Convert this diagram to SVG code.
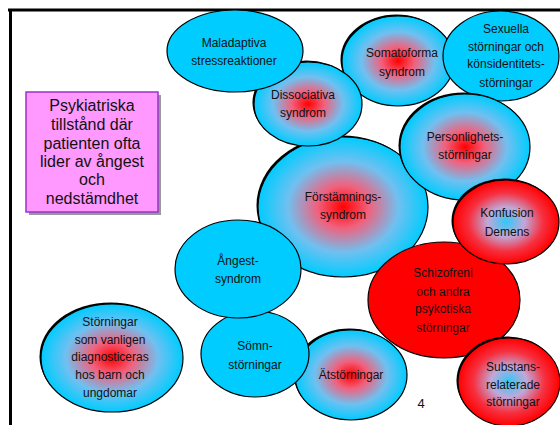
<svg xmlns="http://www.w3.org/2000/svg" width="560" height="425" viewBox="0 0 560 425">
<defs>
<radialGradient id="rc" cx="50%" cy="50%" r="50%">
<stop offset="0" stop-color="#FF0000"/>
<stop offset="0.3" stop-color="#F2607C"/>
<stop offset="0.65" stop-color="#70C0F0"/>
<stop offset="1" stop-color="#00CCFF"/>
</radialGradient>
<radialGradient id="cr" cx="50%" cy="50%" r="50%">
<stop offset="0" stop-color="#30C8F8"/>
<stop offset="0.35" stop-color="#C0A8D8"/>
<stop offset="0.7" stop-color="#F63040"/>
<stop offset="1" stop-color="#FF0000"/>
</radialGradient>
</defs>
<style>
.e{stroke:#000;stroke-width:1.2}
.c{fill:#00CCFF}
.g{fill:url(#rc)}
.i{fill:url(#cr)}
.r{fill:#FF0000}
.s{fill:#000}
text{font-family:"Liberation Sans",Arial,sans-serif;font-size:12px;fill:#111;text-anchor:middle}
.big{font-size:16px}
</style>
<rect width="560" height="425" fill="#fff"/>
<g id="frame">
<line x1="8" y1="10" x2="560" y2="10" stroke="#000" stroke-width="3"/>
<line x1="10.5" y1="9" x2="10.5" y2="425" stroke="#000" stroke-width="3"/>
</g>
<g id="connectors"></g>
<g id="info">
<rect x="29" y="95" width="132" height="120" fill="#999"/>
<rect x="26" y="92" width="132" height="120" fill="#FF99FF" stroke="#9933CC" stroke-width="1.5"/>
<text class="big" x="92" y="111">Psykiatriska</text>
<text class="big" x="92" y="130">tillstånd där</text>
<text class="big" x="92" y="149">patienten ofta</text>
<text class="big" x="92" y="167">lider av ångest</text>
<text class="big" x="92" y="185">och</text>
<text class="big" x="92" y="204">nedstämdhet</text>
</g>
<g id="somatoforma">
<ellipse class="s" cx="396.5" cy="59.5" rx="56" ry="45"/>
<ellipse class="e g" cx="398" cy="61" rx="56" ry="45"/>
<text x="402" y="57">Somatoforma</text>
<text x="402" y="76">syndrom</text>
</g>
<g id="forstamnings">
<ellipse class="s" cx="341.5" cy="205.5" rx="85" ry="70"/>
<ellipse class="e g" cx="343" cy="207" rx="85" ry="70"/>
<text x="343" y="201">Förstämnings-</text>
<text x="343" y="219">syndrom</text>
</g>
<g id="dissociativa">
<ellipse class="s" cx="306.5" cy="102.5" rx="54" ry="42"/>
<ellipse class="e g" cx="308" cy="104" rx="54" ry="42"/>
<text x="303" y="99">Dissociativa</text>
<text x="303" y="117">syndrom</text>
</g>
<g id="maladaptiva">
<ellipse class="e c" cx="235" cy="51" rx="68" ry="41"/>
<text x="234" y="47">Maladaptiva</text>
<text x="234" y="65">stressreaktioner</text>
</g>
<g id="sexuella">
<ellipse class="e c" cx="501" cy="56" rx="58" ry="45"/>
<text x="506" y="33">Sexuella</text>
<text x="506" y="51">störningar och</text>
<text x="506" y="68">könsidentitets-</text>
<text x="506" y="87">störningar</text>
</g>
<g id="personlighets">
<ellipse class="s" cx="463.5" cy="145.5" rx="65" ry="53"/>
<ellipse class="e g" cx="465" cy="147" rx="65" ry="53"/>
<text x="465" y="141">Personlighets-</text>
<text x="465" y="159">störningar</text>
</g>
<g id="schizofreni">
<ellipse class="e r" cx="444" cy="300" rx="76" ry="58"/>
<text x="443" y="277">Schizofreni</text>
<text x="443" y="296">och andra</text>
<text x="443" y="313">psykotiska</text>
<text x="443" y="332">störningar</text>
</g>
<g id="konfusion">
<ellipse class="s" cx="504.5" cy="220.5" rx="53" ry="42"/>
<ellipse class="e i" cx="506" cy="222" rx="53" ry="42"/>
<text x="507" y="217">Konfusion</text>
<text x="507" y="236">Demens</text>
</g>
<g id="substans">
<ellipse class="s" cx="507.5" cy="380.5" rx="51" ry="44"/>
<ellipse class="e i" cx="509" cy="382" rx="51" ry="44"/>
<text x="513" y="371">Substans-</text>
<text x="513" y="389">relaterade</text>
<text x="513" y="406">störningar</text>
</g>
<g id="atstorningar">
<ellipse class="s" cx="349.5" cy="373.5" rx="56" ry="45"/>
<ellipse class="e g" cx="351" cy="375" rx="56" ry="45"/>
<text x="351" y="379">Ätstörningar</text>
</g>
<g id="somn">
<ellipse class="e c" cx="255" cy="354" rx="54" ry="43"/>
<text x="255" y="350">Sömn-</text>
<text x="255" y="369">störningar</text>
</g>
<g id="angest">
<ellipse class="e c" cx="238" cy="269" rx="63" ry="49"/>
<text x="238" y="265">Ångest-</text>
<text x="238" y="283">syndrom</text>
</g>
<g id="barn">
<ellipse class="s" cx="110.5" cy="356.5" rx="71" ry="54"/>
<ellipse class="e g" cx="112" cy="358" rx="71" ry="54"/>
<text x="110" y="326">Störningar</text>
<text x="110" y="344">som vanligen</text>
<text x="110" y="361">diagnosticeras</text>
<text x="110" y="379">hos barn och</text>
<text x="110" y="397">ungdomar</text>
</g>
<g id="page">
<text x="421" y="408" style="font-size:13px">4</text>
</g>
</svg>
